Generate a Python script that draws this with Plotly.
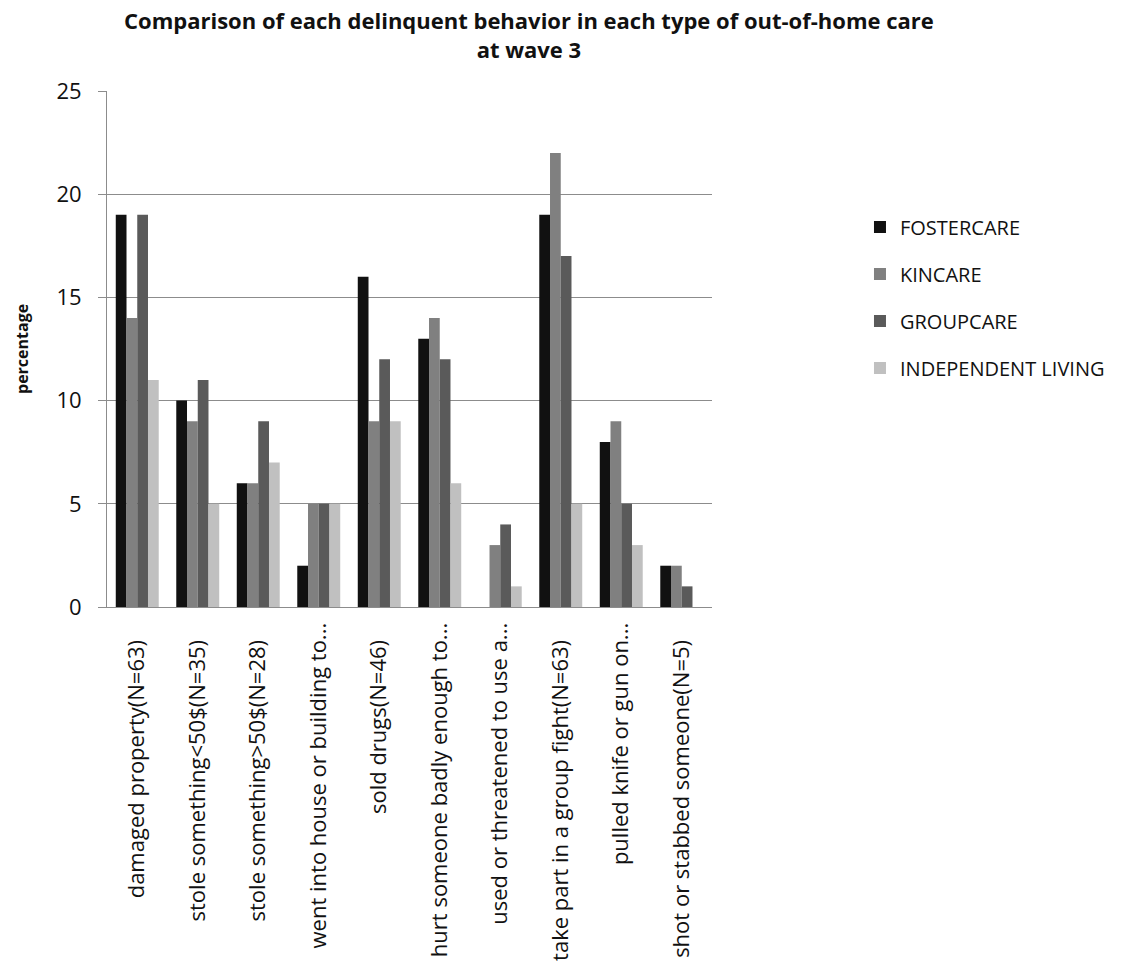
import plotly.graph_objects as go

categories = [
    "damaged property(N=63)",
    "stole something<50$(N=35)",
    "stole something>50$(N=28)",
    "went into house or building to...",
    "sold drugs(N=46)",
    "hurt someone badly enough to...",
    "used or threatened to use a...",
    "take part in a group fight(N=63)",
    "pulled knife or gun on...",
    "shot or stabbed someone(N=5)",
]

fostercare = [19, 10, 6, 2, 16, 13, 0, 19, 8, 2]
kincare = [14, 9, 6, 5, 9, 14, 3, 22, 9, 2]
groupcare = [19, 11, 9, 5, 12, 12, 4, 17, 5, 1]
independent_living = [11, 5, 7, 5, 9, 6, 1, 5, 3, 0]

series = [
    ("FOSTERCARE", fostercare, "#111111"),
    ("KINCARE", kincare, "#808080"),
    ("GROUPCARE", groupcare, "#5a5a5a"),
    ("INDEPENDENT LIVING", independent_living, "#c0c0c0"),
]

FONT = "Open Sans"
TEXT = "#111111"
GRID = "#8c8c8c"

# Full labels sit a little further from the axis than the shortened ones
tick_text = [c if c.endswith("...") else c + "\u00a0\u00a0\u00a0" for c in categories]

fig = go.Figure()
for name, values, color in series:
    fig.add_trace(go.Bar(
        name=name,
        legendgroup=name,
        x=categories,
        y=values,
        marker=dict(color=color, line=dict(width=0)),
    ))

fig.update_layout(
    width=1123,
    height=973,
    margin=dict(l=107, r=411, t=91, b=366),
    paper_bgcolor="white",
    plot_bgcolor="white",
    barmode="group",
    bargap=0.29,
    bargroupgap=0,
    font=dict(family=FONT, color=TEXT),
    title=dict(
        text="<b>Comparison of each delinquent behavior in each type of out-of-home care<br>at wave 3</b>",
        xref="container",
        x=0.471,
        xanchor="center",
        yref="container",
        y=0.97,
        yanchor="top",
        font=dict(family=FONT, size=22, color=TEXT),
    ),
    legend=dict(
        x=1.2446,
        y=0.774,
        xanchor="left",
        yanchor="top",
        font=dict(family=FONT, size=20, color=TEXT),
        tracegroupgap=18,
        bgcolor="rgba(0,0,0,0)",
        traceorder="grouped",
    ),
    showlegend=True,
    annotations=[
        dict(
            text="<b>percentage</b>",
            xref="paper",
            yref="paper",
            x=-0.1405,
            y=0.5,
            xanchor="center",
            yanchor="middle",
            textangle=-90,
            showarrow=False,
            font=dict(family=FONT, size=16, color=TEXT),
        )
    ],
)

fig.update_xaxes(
    tickmode="array",
    tickvals=categories,
    ticktext=tick_text,
    tickangle=-90,
    tickfont=dict(family=FONT, size=22, color=TEXT),
    ticklabelstandoff=6,
    showline=True,
    linecolor=GRID,
    linewidth=1,
    ticks="",
    automargin=False,
)

fig.update_yaxes(
    range=[0, 25],
    dtick=5,
    tickfont=dict(family=FONT, size=22, color=TEXT),
    showgrid=True,
    gridcolor=GRID,
    gridwidth=1,
    showline=True,
    linecolor=GRID,
    linewidth=1,
    ticks="outside",
    ticklen=8,
    tickcolor=GRID,
    ticklabelstandoff=12,
    zeroline=False,
    automargin=False,
)

fig.write_html("out.html")
